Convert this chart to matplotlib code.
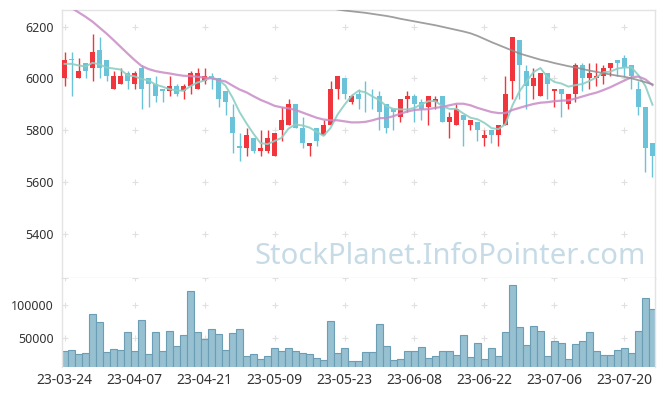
import numpy as np
import pandas as pd
import matplotlib
matplotlib.use('Agg')
import matplotlib.pyplot as plt

plt.rcParams['font.family'] = ['Noto Sans', 'DejaVu Sans']

# trading days (KRX holidays removed)
holidays = ['2023-05-01', '2023-05-05', '2023-05-29', '2023-06-06']
dates = [d for d in pd.bdate_range('2023-03-24', '2023-07-26')
         if d.strftime('%Y-%m-%d') not in holidays]
date_labels = [d.strftime('%y-%m-%d') for d in dates]

opens = [6000, 6070, 6000, 6060, 6040, 6110, 6070, 5960, 5980, 6020,
         5980, 6040, 6000, 5980, 5960, 5950, 5970, 5950, 5970, 5960,
         5990, 6010, 6000, 5950, 5850, 5740, 5730, 5770, 5720, 5720,
         5700, 5800, 5820, 5900, 5810, 5740, 5810, 5780, 5820, 5960,
         6000, 5910, 5940, 5930, 5930, 5930, 5900, 5880, 5850, 5920,
         5930, 5910, 5890, 5910, 5930, 5830, 5820, 5860, 5820, 5830,
         5770, 5800, 5780, 5820, 5990, 6150, 6030, 5970, 5930, 6020,
         5950, 5960, 5900, 5940, 6050, 6000, 6000, 6010, 6040, 6070,
         6080, 6050, 5960, 5890, 5750]
highs = [6100, 6100, 6080, 6060, 6170, 6160, 6070, 6030, 6040, 6030,
         6030, 6050, 6000, 6010, 5960, 6010, 5980, 5980, 6030, 6040,
         6040, 6020, 6000, 5950, 5900, 5790, 5810, 5770, 5800, 5800,
         5790, 5890, 5920, 5900, 5850, 5750, 5810, 5840, 5990, 6010,
         6000, 5940, 5960, 5990, 5960, 5950, 5900, 5880, 5920, 5950,
         5940, 5920, 5930, 5930, 5930, 5870, 5900, 5860, 5840, 5830,
         5800, 5800, 5820, 6010, 6160, 6150, 6050, 6040, 6020, 6020,
         5960, 5960, 5940, 6060, 6060, 6060, 6060, 6050, 6060, 6070,
         6090, 6050, 5990, 5890, 5750]
lows = [5970, 5930, 6000, 6000, 5990, 6000, 5990, 5960, 5980, 5960,
        5960, 5880, 5890, 5910, 5910, 5930, 5930, 5920, 5940, 5960,
        5980, 5960, 5890, 5860, 5710, 5680, 5700, 5710, 5700, 5710,
        5700, 5760, 5820, 5810, 5730, 5700, 5740, 5780, 5820, 5920,
        5920, 5900, 5880, 5870, 5880, 5800, 5790, 5800, 5830, 5870,
        5830, 5840, 5820, 5880, 5830, 5770, 5820, 5740, 5800, 5760,
        5740, 5750, 5740, 5820, 5920, 5920, 5880, 5920, 5930, 5920,
        5890, 5850, 5880, 5910, 5950, 5960, 5970, 5980, 6010, 6010,
        6010, 5960, 5860, 5640, 5620]
closes = [6070, 6070, 6030, 6030, 6100, 6040, 6010, 6010, 6010, 5990,
          6020, 5960, 5980, 5930, 5950, 5970, 5940, 5970, 6020, 6020,
          6010, 6000, 5920, 5910, 5790, 5730, 5780, 5720, 5730, 5770,
          5790, 5840, 5900, 5810, 5750, 5750, 5760, 5820, 5960, 6010,
          5940, 5930, 5920, 5930, 5930, 5870, 5810, 5870, 5920, 5930,
          5900, 5880, 5930, 5920, 5830, 5850, 5880, 5840, 5840, 5800,
          5780, 5780, 5820, 5940, 6160, 6050, 5970, 6000, 6020, 5980,
          5960, 5940, 5940, 6050, 6000, 6020, 6010, 6040, 6060, 6060,
          6040, 6010, 5890, 5730, 5700]
volumes = [30000, 31500, 25300, 26900, 86900, 74600, 28400, 33000, 32000, 59200,
           30000, 77600, 25300, 59200, 30000, 60700, 37600, 54600, 120700, 59200,
           48400, 63800, 56100, 31500, 57600, 63800, 22300, 25300, 17600, 22300,
           34600, 30000, 34600, 30000, 26900, 25300, 19200, 16100, 76100, 26900,
           34600, 14600, 14600, 28400, 28400, 71500, 37600, 16100, 17600, 30000,
           30000, 36100, 19200, 22300, 30000, 30000, 23800, 54600, 20700, 42300,
           17600, 34600, 22300, 59200, 129900, 66900, 39200, 68400, 60700, 22300,
           45300, 42300, 17600, 40700, 45300, 59200, 30000, 23800, 23800, 31500,
           34600, 26900, 60700, 109900, 94600]
ma5 = [6056, 6056, 6050, 6046, 6060, 6054, 6042, 6038, 6034, 6012,
       6008, 5998, 5992, 5976, 5968, 5958, 5954, 5952, 5970, 5984,
       5992, 6004, 5994, 5972, 5926, 5870, 5826, 5786, 5750, 5746,
       5758, 5770, 5806, 5822, 5818, 5810, 5794, 5778, 5808, 5860,
       5898, 5932, 5952, 5946, 5930, 5916, 5892, 5882, 5880, 5880,
       5886, 5900, 5912, 5912, 5892, 5882, 5882, 5864, 5848, 5842,
       5828, 5808, 5804, 5824, 5896, 5950, 5988, 6024, 6040, 6004,
       5986, 5980, 5968, 5974, 5978, 5990, 6004, 6024, 6026, 6038,
       6042, 6042, 6012, 5970, 5898]
ma20 = [6290, 6272, 6255, 6238, 6219, 6196, 6173, 6148, 6122, 6096,
        6071, 6048, 6036, 6028, 6023, 6019, 6014, 6010, 6009, 6006,
        6003, 6000, 5994, 5988, 5972, 5957, 5946, 5931, 5917, 5906,
        5894, 5888, 5884, 5878, 5868, 5858, 5848, 5841, 5838, 5838,
        5834, 5830, 5830, 5832, 5838, 5846, 5847, 5854, 5864, 5872,
        5878, 5880, 5881, 5886, 5890, 5896, 5902, 5902, 5896, 5886,
        5878, 5870, 5866, 5866, 5878, 5886, 5894, 5901, 5906, 5908,
        5912, 5914, 5915, 5922, 5930, 5938, 5945, 5955, 5966, 5979,
        5992, 6004, 6007, 5996, 5974]
ma_long = [np.nan] * 38 + [
    6272, 6266, 6262, 6259, 6256, 6253, 6249, 6245, 6241, 6236,
    6230, 6225, 6220, 6215, 6210, 6205, 6199, 6193, 6187, 6181,
    6174, 6164, 6152, 6140, 6129, 6118, 6107, 6096, 6088, 6080,
    6072, 6066, 6059, 6053, 6047, 6042, 6036, 6030, 6025, 6020,
    6015, 6010, 6006, 6000, 5993, 5985, 5977]
price_ticks = [5400, 5600, 5800, 6000, 6200]
vol_ticks = [50000, 100000]

RED = '#f0363c'
BLUE = '#6bc3d9'
GRID = '#e0e0e0'
SPINE = '#e3e3e3'
TXT = '#333333'

o = np.array(opens)
c = np.array(closes)
x = np.arange(len(dates))
up = c > o
colors = np.where(up, RED, BLUE)

fig = plt.figure(figsize=(6.65, 3.96), dpi=100)
ax = fig.add_axes([62 / 665, 118 / 396, 593 / 665, 268 / 396])
axv = fig.add_axes([62 / 665, 29 / 396, 593 / 665, 89 / 396], sharex=ax)

# candles
ax.vlines(x, lows, highs, colors=colors, linewidth=1.0, zorder=2)
body_h = np.maximum(np.abs(c - o), 3)
ax.bar(x, body_h, bottom=np.minimum(o, c), width=0.72, color=colors,
       linewidth=0, zorder=3)

# moving averages
ax.plot(x, ma5, color='#8ccfc4', lw=1.4, alpha=0.9, zorder=4)
ax.plot(x, ma20, color='#c88cc6', lw=1.6, alpha=0.85, zorder=4)
ax.plot(x, ma_long, color='#8e8e8e', lw=1.3, alpha=0.85, zorder=4)

ax.set_ylim(5229, 6264)
ax.set_xlim(-0.36, len(dates) - 0.64)

# volume
axv.bar(x, volumes, width=1.0, color='#97c0d1', edgecolor='#6b9db5',
        linewidth=0.8, zorder=2)
axv.set_ylim(5800, 141000)

xt = x[::10]
for a, yt in ((ax, price_ticks), (axv, vol_ticks + [141000])):
    gx, gy = np.meshgrid(xt, yt)
    a.scatter(gx.ravel(), gy.ravel(), marker='+', s=18, color=GRID,
              linewidths=0.8, zorder=1)

ax.set_yticks(price_ticks)
ax.set_yticklabels([str(v) for v in price_ticks])
axv.set_yticks(vol_ticks)
axv.set_yticklabels([str(v) for v in vol_ticks])
axv.set_xticks(xt)
axv.set_xticklabels([date_labels[i] for i in xt])

ax.tick_params(axis='x', bottom=False, labelbottom=False)
ax.tick_params(axis='y', length=0, pad=6, labelsize=9, labelcolor=TXT)
axv.tick_params(axis='y', length=0, pad=6, labelsize=9, labelcolor=TXT)
axv.tick_params(axis='x', length=0, pad=4, labelsize=10, labelcolor=TXT)

for a in (ax, axv):
    for s in a.spines.values():
        s.set_color(SPINE)
        s.set_linewidth(1.0)
axv.spines['bottom'].set_visible(False)
axv.spines['top'].set_visible(False)

fig.text(450 / 665, 140 / 396, 'StockPlanet.InfoPointer.com', ha='center',
         va='center', fontsize=21, color='#c6dbe6', zorder=0)

fig.savefig('out.png', dpi=100, facecolor='white')
